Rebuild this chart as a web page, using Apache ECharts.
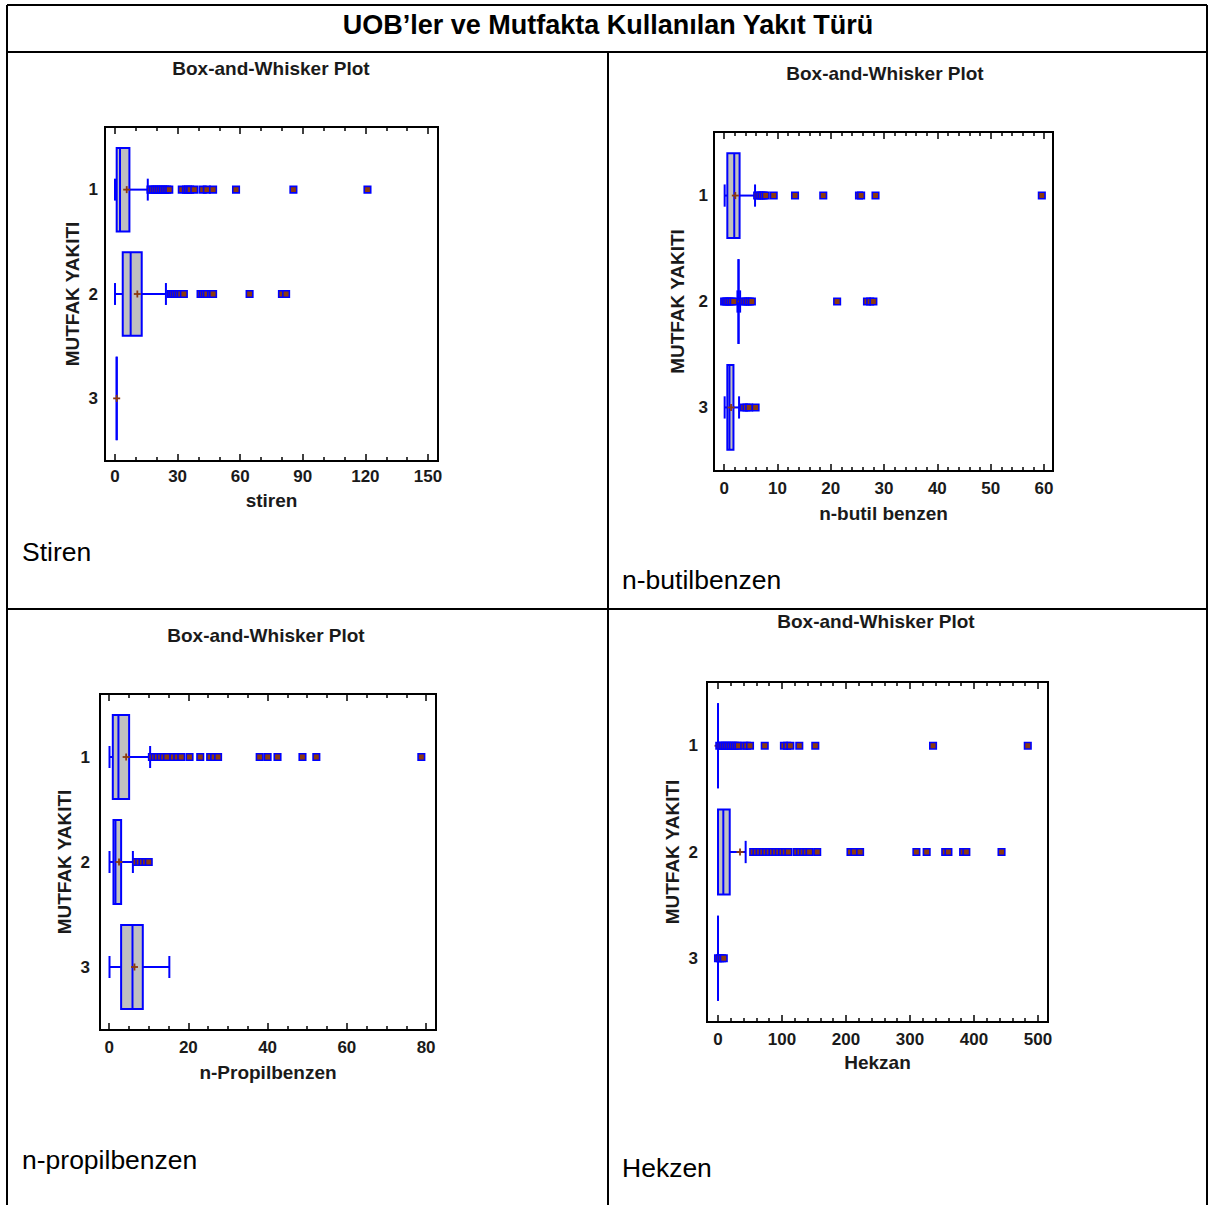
<!DOCTYPE html>
<html><head><meta charset="utf-8">
<script src="https://cdn.jsdelivr.net/npm/echarts@6/dist/echarts.min.js"></script>
<style>html,body{margin:0;padding:0;background:#fff}#c{width:1211px;height:1205px}</style>
</head><body><div id="c"></div>
<script>
// ---------- DATA ----------
const groups = ['1', '2', '3'];
const mainTitle = 'UOB’ler ve Mutfakta Kullanılan Yakıt Türü';
const plotTitle = 'Box-and-Whisker Plot';
const yName = 'MUTFAK YAKITI';
const cellLabels = ['Stiren', 'n-butilbenzen', 'n-propilbenzen', 'Hekzen'];

// box stats per group: [min, Q1, median, Q3, max]
const stirenBox = [[0, 0.8, 2.4, 6.9, 15.7], [0, 3.7, 7.5, 12.8, 24.4], [0.8, 0.8, 0.8, 0.8, 0.8]];
const stirenMean = [5.6, 10.7, 0.8];
const stirenOut1 = [17, 18, 19, 20, 21, 22, 23, 24, 25, 26, 32, 34, 35, 36, 38, 42, 44, 47, 58, 85.5, 121];
const stirenOut2 = [26.7, 27.5, 28.5, 29.5, 30.5, 31.5, 33, 41, 42, 43, 44, 46, 47, 64.5, 80, 82];
const stirenOut3 = [];
const stirenMajor = [0, 30, 60, 90, 120, 150];
const stirenMinor = [10, 20, 40, 50, 70, 80, 100, 110, 130, 140];

const butilBox = [[0.1, 0.6, 1.9, 2.9, 5.8], [2.5, 2.7, 2.7, 2.7, 3.0], [0.1, 0.6, 1.0, 1.75, 2.8]];
const butilMean = [2.1, 2.1, 1.3];
const butilOut1 = [6.2, 6.6, 7.0, 7.4, 7.8, 9.3, 13.3, 18.6, 25.3, 25.7, 28.4, 59.6];
const butilOut2 = [0, 0.3, 0.6, 1.0, 1.4, 1.8, 3.6, 4.0, 4.4, 4.8, 5.2, 21.2, 26.8, 27.4, 28.0];
const butilOut3 = [3.7, 4.2, 4.7, 5.9];
const butilMajor = [0, 10, 20, 30, 40, 50, 60];
const butilMinor = [2, 4, 6, 8, 12, 14, 16, 18, 22, 24, 26, 28, 32, 34, 36, 38, 42, 44, 46, 48, 52, 54, 56, 58];

const propilBox = [[0.1, 0.93, 2.35, 5.05, 10.35], [0.1, 1.1, 1.6, 3.03, 6.0], [0.1, 3.03, 5.9, 8.5, 15.2]];
const propilMean = [4.3, 2.5, 6.4];
const propilOut1 = [10.8, 11.5, 12.2, 13, 13.8, 14.6, 16.2, 17.2, 18.2, 20.3, 23, 25.5, 26.5, 27.5, 38, 40, 42.5, 48.8, 52.3, 78.8];
const propilOut2 = [6.8, 7.6, 8.4, 9.2, 10.0];
const propilOut3 = [];
const propilMajor = [0, 20, 40, 60, 80];
const propilMinor = [5, 10, 15, 25, 30, 35, 45, 50, 55, 65, 70, 75];

const hekzanBox = [[0, 0, 0, 0, 0], [0, 0, 8.3, 18.3, 43.2], [0, 0, 0, 0, 0]];
const hekzanMean = [0, 34.4, 1];
const hekzanOut1 = [2, 5, 8, 11, 14, 17, 20, 23, 26, 29, 32, 41, 45, 50, 73, 103, 108, 113, 127, 152, 336, 484];
const hekzanOut2 = [55, 60, 65, 70, 75, 80, 85, 90, 95, 100, 105, 110, 123, 128, 133, 138, 143, 155, 207, 213, 222, 310, 326, 355, 360, 383, 388, 443];
const hekzanOut3 = [0, 3, 6, 9];
const hekzanMajor = [0, 100, 200, 300, 400, 500];
const hekzanMinor = [20, 40, 60, 80, 120, 140, 160, 180, 220, 240, 260, 280, 320, 340, 360, 380, 420, 440, 460, 480];

// ---------- LAYOUT ----------
const panels = [
  {box: stirenBox, mean: stirenMean, out: [stirenOut1, stirenOut2, stirenOut3], xName: 'stiren', major: stirenMajor, minor: stirenMinor,
   range: [-4.8, 154.8], grid: {left: 105, top: 127, width: 333, height: 334}, title: [271, 68], nameGap: 30, labelMargin: 7, yNameGap: 23, yLabelMargin: 7},
  {box: butilBox, mean: butilMean, out: [butilOut1, butilOut2, butilOut3], xName: 'n-butil benzen', major: butilMajor, minor: butilMinor,
   range: [-1.9, 61.7], grid: {left: 714, top: 132, width: 339, height: 339}, title: [885, 73], nameGap: 33, labelMargin: 9, yNameGap: 27, yLabelMargin: 6},
  {box: propilBox, mean: propilMean, out: [propilOut1, propilOut2, propilOut3], xName: 'n-Propilbenzen', major: propilMajor, minor: propilMinor,
   range: [-2.3, 82.5], grid: {left: 100, top: 694, width: 336, height: 336}, title: [266, 635], nameGap: 33, labelMargin: 9, yNameGap: 26, yLabelMargin: 10},
  {box: hekzanBox, mean: hekzanMean, out: [hekzanOut1, hekzanOut2, hekzanOut3], xName: 'Hekzan', major: hekzanMajor, minor: hekzanMinor,
   range: [-17.2, 515.6], grid: {left: 707, top: 682, width: 341, height: 340}, title: [876, 621], nameGap: 31, labelMargin: 9, yNameGap: 25, yLabelMargin: 9}
];

const BLUE = '#0000ff', BROWN = '#8b3a0f', TXT = '#1a1a1a';
const FONT = 'Liberation Sans, Arial, sans-serif';
const axFont = {fontFamily: FONT, fontWeight: 'bold', fontSize: 17, color: TXT};
const nameFont = {fontFamily: FONT, fontWeight: 'bold', fontSize: 19, color: TXT};

function boxRender(params, api) {
  const cat = api.value(0);
  const mn = api.value(1), q1 = api.value(2), md = api.value(3), q3 = api.value(4), mx = api.value(5), mean = api.value(6);
  const pMin = api.coord([mn, cat]), pQ1 = api.coord([q1, cat]), pMd = api.coord([md, cat]),
        pQ3 = api.coord([q3, cat]), pMx = api.coord([mx, cat]), pMean = api.coord([mean, cat]);
  const hh = Math.abs(api.size([0, 0.4])[1]);
  const ch = Math.abs(api.size([0, 0.105])[1]);
  const y = pMd[1];
  const ch_ = [];
  const ln = (x1, y1, x2, y2, w, c) => ({type: 'line', shape: {x1, y1, x2, y2}, style: {stroke: c || BLUE, lineWidth: w}});
  if (mn < q1) { ch_.push(ln(pMin[0], y, pQ1[0], y, 2)); ch_.push(ln(pMin[0], y - ch, pMin[0], y + ch, 2)); }
  if (mx > q3) { ch_.push(ln(pQ3[0], y, pMx[0], y, 2)); ch_.push(ln(pMx[0], y - ch, pMx[0], y + ch, 2)); }
  ch_.push({type: 'rect', shape: {x: pQ1[0], y: y - hh, width: pQ3[0] - pQ1[0], height: 2 * hh},
            style: {fill: '#c0c0c0', stroke: BLUE, lineWidth: 2}});
  ch_.push(ln(pMd[0], y - hh, pMd[0], y + hh, 2));
  ch_.push(ln(pMean[0] - 3.5, y, pMean[0] + 3.5, y, 1.8, BROWN));
  ch_.push(ln(pMean[0], y - 3.5, pMean[0], y + 3.5, 1.8, BROWN));
  return {type: 'group', children: ch_};
}

const option = {
  animation: false,
  backgroundColor: '#fff',
  grid: [], xAxis: [], yAxis: [], series: [],
  graphic: []
};

panels.forEach((p, i) => {
  option.grid.push(Object.assign({show: true, borderColor: '#000', borderWidth: 2, backgroundColor: '#fff', containLabel: false}, p.grid));
  const base = {type: 'value', gridIndex: i, min: p.range[0], max: p.range[1], splitLine: {show: false}, axisLine: {show: false}};
  option.xAxis.push(Object.assign({}, base, {position: 'bottom', name: p.xName, nameLocation: 'middle', nameGap: p.nameGap,
    nameTextStyle: nameFont,
    axisTick: {show: true, inside: true, length: 7, customValues: p.major, lineStyle: {color: '#000', width: 1.5}},
    axisLabel: Object.assign({show: true, margin: p.labelMargin, customValues: p.major, formatter: v => String(v)}, axFont)}));
  option.xAxis.push(Object.assign({}, base, {position: 'bottom',
    axisTick: {show: true, inside: true, length: 4, customValues: p.minor, lineStyle: {color: '#000', width: 1.5}},
    axisLabel: {show: false}}));
  option.xAxis.push(Object.assign({}, base, {position: 'top',
    axisTick: {show: true, inside: true, length: 7, customValues: p.major, lineStyle: {color: '#000', width: 1.5}},
    axisLabel: {show: false}}));
  option.xAxis.push(Object.assign({}, base, {position: 'top',
    axisTick: {show: true, inside: true, length: 4, customValues: p.minor, lineStyle: {color: '#000', width: 1.5}},
    axisLabel: {show: false}}));
  option.yAxis.push({type: 'value', gridIndex: i, min: 0.4, max: 3.6, inverse: true, position: 'left',
    splitLine: {show: false}, axisLine: {show: false}, axisTick: {show: false},
    name: yName, nameLocation: 'middle', nameGap: p.yNameGap, nameRotate: 90, nameTextStyle: nameFont,
    axisLabel: Object.assign({show: true, margin: p.yLabelMargin, customValues: [1, 2, 3], formatter: v => groups[Math.round(v) - 1]}, axFont)});
  const xi = i * 4;
  option.series.push({
    type: 'custom', xAxisIndex: xi, yAxisIndex: i, renderItem: boxRender, z: 2,
    encode: {x: [1, 2, 3, 4, 5, 6], y: 0},
    data: p.box.map((b, k) => [k + 1].concat(b, [p.mean[k]]))
  });
  p.out.forEach((arr, k) => {
    option.series.push({
      type: 'scatter', xAxisIndex: xi, yAxisIndex: i, z: 3, symbol: 'rect', symbolSize: 6.5,
      itemStyle: {color: BROWN, borderColor: BLUE, borderWidth: 1.6, opacity: 1},
      data: arr.map(v => [v, k + 1])
    });
  });
  option.graphic.push({type: 'text', x: p.title[0], y: p.title[1], z: 10,
    style: {text: plotTitle, fill: TXT, font: 'bold 19px ' + FONT, align: 'center', verticalAlign: 'middle'}});
});

// table frame
const lineS = {stroke: '#000', lineWidth: 2};
[[7, 5, 1207, 5], [7, 52, 1207, 52], [7, 5, 7, 1205], [1207, 5, 1207, 1205], [608, 52, 608, 1205], [7, 609, 1207, 609]]
  .forEach(l => option.graphic.push({type: 'line', shape: {x1: l[0], y1: l[1], x2: l[2], y2: l[3]}, style: lineS, z: 20}));
option.graphic.push({type: 'text', x: 608, y: 25, style: {text: mainTitle, fill: '#000', font: 'bold 27px ' + FONT, align: 'center', verticalAlign: 'middle'}});
const cellPos = [[22, 552], [622, 580], [22, 1160], [622, 1168]];
cellLabels.forEach((t, i) => option.graphic.push({type: 'text', x: cellPos[i][0], y: cellPos[i][1],
  style: {text: t, fill: '#000', font: '26.5px ' + FONT, align: 'left', verticalAlign: 'middle'}}));

const chart = echarts.init(document.getElementById('c'), null, {renderer: 'svg', width: 1211, height: 1205});
chart.setOption(option);
</script></body></html>
